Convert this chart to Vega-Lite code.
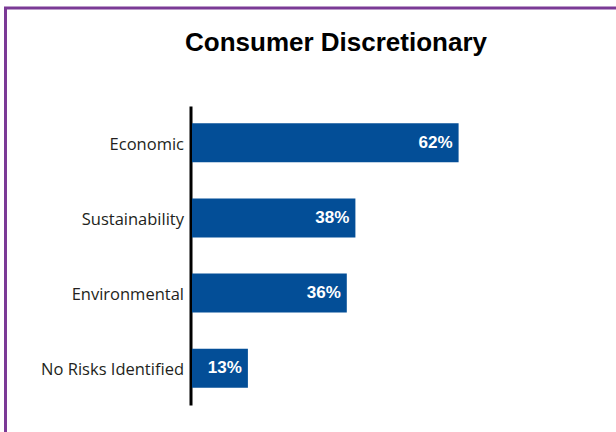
{
  "$schema": "https://vega.github.io/schema/vega-lite/v6.json",
  "width": 620,
  "height": 440,
  "autosize": {"type": "none"},
  "padding": {"left": 5.5, "top": 8, "right": 0, "bottom": 0},
  "background": "white",
  "config": {"view": {"stroke": "#7B3A96", "strokeWidth": 3}},
  "title": {
    "text": "Consumer Discretionary",
    "anchor": "middle",
    "frame": "group",
    "font": "Liberation Sans",
    "fontSize": 26,
    "fontWeight": "bold",
    "color": "#000000",
    "offset": 0,
    "baseline": "alphabetic",
    "dx": 20.5,
    "dy": 69
  },
  "data": {
    "values": [
      {"category": "Economic", "value": 0.62},
      {"category": "Sustainability", "value": 0.38},
      {"category": "Environmental", "value": 0.36},
      {"category": "No Risks Identified", "value": 0.13}
    ]
  },
  "encoding": {
    "y": {
      "field": "category",
      "type": "nominal",
      "sort": null,
      "scale": {"range": [98, 397], "paddingInner": 0.48, "paddingOuter": 0.23},
      "axis": {
        "orient": "left",
        "offset": -185,
        "title": null,
        "domainColor": "#000000",
        "domainWidth": 3,
        "ticks": false,
        "tickSize": 0,
        "labelPadding": 7,
        "labelOffset": 2,
        "labelFont": "Open Sans",
        "labelFontSize": 16.5,
        "labelColor": "#231F20",
        "grid": false
      }
    },
    "x": {
      "field": "value",
      "type": "quantitative",
      "scale": {"domain": [0, 1], "range": [186.5, 616.5]},
      "axis": null
    }
  },
  "layer": [
    {"mark": {"type": "bar", "color": "#034E97"}},
    {
      "mark": {
        "type": "text",
        "align": "right",
        "baseline": "middle",
        "dx": -6,
        "color": "#FFFFFF",
        "font": "Liberation Sans",
        "fontSize": 17,
        "fontWeight": "bold"
      },
      "encoding": {"text": {"field": "value", "type": "quantitative", "format": ".0%"}}
    }
  ]
}
